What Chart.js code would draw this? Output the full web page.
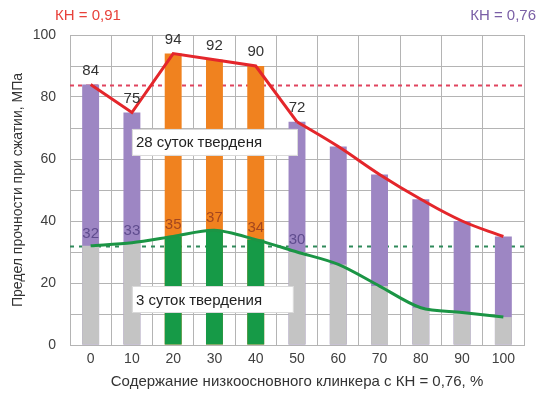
<!DOCTYPE html>
<html><head><meta charset="utf-8">
<script src="https://cdn.jsdelivr.net/npm/chart.js@4/dist/chart.umd.min.js"></script>
<style>html,body{margin:0;padding:0;background:#fff}</style>
</head><body>
<canvas id="c" width="540" height="393"></canvas>
<script>
// ---- data ----
const categories = ['0', '10', '20', '30', '40', '50', '60', '70', '80', '90', '100'];
const strength28 = [84, 75, 94, 92, 90, 72, 64, 55, 47, 40, 35];
const strength3 = [32, 33, 35, 37, 34, 30, 26, 19, 12, 10.5, 9];
const labelledCount = 6;            // first categories carry printed values
const highKhIdx = [2, 3, 4];        // bars drawn in KH = 0.91 colours
const refLevels = [84, 32];         // dashed reference levels
const yTickLabels = [0, 20, 40, 60, 80, 100];
const notes = [
  { text: '28 суток тверденя', from: 1, to: 5, y: 65.5 },
  { text: '3 суток твердения', from: 1, to: 4.9, y: 14.7 }
];
const smoothFrom = 5;

// ---- styles ----
const PURPLE = '#9D86C3', ORANGE = '#F0821F', GREY = '#C4C4C4', GREEN = '#169A47';
const RED = '#E4262B', GREEN_LINE = '#1B9545';
const FONT = '"Liberation Sans", Arial, sans-serif';
const colors28 = categories.map((c, i) => highKhIdx.includes(i) ? ORANGE : PURPLE);
const colors3 = categories.map((c, i) => highKhIdx.includes(i) ? GREEN : GREY);
const label3Colors = categories.map((c, i) => highKhIdx.includes(i) ? '#A4471F' : '#5F4C8E');
const refStyles = [{ color: '#E0445E', dash: [4, 4] }, { color: '#2F8A5A', dash: [4, 5] }];

const redStraight = strength28.map((v, i) => i <= smoothFrom ? v : null);
const redSmooth = strength28.map((v, i) => i >= smoothFrom ? v : null);

const annot = {
  id: 'annot',
  beforeDatasetsDraw(chart) {
    const { ctx, chartArea: a, scales: { y } } = chart;
    refLevels.forEach((v, k) => {
      const py = Math.round(y.getPixelForValue(v)) + 0.5;
      ctx.save();
      ctx.strokeStyle = refStyles[k].color;
      ctx.lineWidth = 2;
      ctx.setLineDash(refStyles[k].dash);
      ctx.beginPath(); ctx.moveTo(a.left, py); ctx.lineTo(a.right, py); ctx.stroke();
      ctx.restore();
    });
  },
  afterDatasetsDraw(chart) {
    const { ctx, chartArea: a, scales: { x, y } } = chart;
    const m28 = chart.getDatasetMeta(0), m3 = chart.getDatasetMeta(1);
    ctx.save();
    ctx.font = '15px ' + FONT;
    ctx.textAlign = 'center';
    ctx.textBaseline = 'middle';
    for (let i = 0; i < labelledCount; i++) {
      const b = m28.data[i];
      ctx.fillStyle = '#333333';
      ctx.fillText(String(strength28[i]), b.x, b.y - 14);
      const g = m3.data[i];
      ctx.fillStyle = label3Colors[i];
      ctx.fillText(String(strength3[i]), g.x, g.y - 12);
    }
    // text boxes
    notes.forEach(n => {
      const l = x.getPixelForValue(n.from), r = x.getPixelForValue(n.to);
      const cy = y.getPixelForValue(n.y);
      ctx.fillStyle = '#ffffff';
      ctx.fillRect(l, cy - 13, r - l, 26);
      ctx.strokeStyle = '#DADADA';
      ctx.lineWidth = 1;
      ctx.strokeRect(Math.round(l) + 0.5, Math.round(cy - 13) + 0.5, Math.round(r - l), 26);
      ctx.fillStyle = '#222222';
      ctx.textAlign = 'left';
      ctx.font = '15px ' + FONT;
      ctx.fillText(n.text, l + 4, cy + 1);
    });
    // header labels
    ctx.font = '15px ' + FONT;
    ctx.textAlign = 'left';
    ctx.fillStyle = '#E8413A';
    ctx.fillText('КН = 0,91', a.left - 15, 16);
    ctx.textAlign = 'right';
    ctx.fillStyle = '#7A5FA6';
    ctx.fillText('КН = 0,76', a.right + 12, 16);
    ctx.restore();
  }
};

new Chart(document.getElementById('c'), {
  data: {
    labels: categories,
    datasets: [
      { type: 'bar', data: strength28, backgroundColor: colors28, grouped: false, order: 5,
        barPercentage: 0.41, categoryPercentage: 1 },
      { type: 'bar', data: strength3, backgroundColor: colors3, grouped: false, order: 4,
        barPercentage: 0.41, categoryPercentage: 1 },
      { type: 'line', data: redStraight, borderColor: RED, borderWidth: 3, pointRadius: 0,
        tension: 0, order: 1, spanGaps: false },
      { type: 'line', data: redSmooth, borderColor: RED, borderWidth: 3, pointRadius: 0,
        tension: 0.4, order: 1 },
      { type: 'line', data: strength3, borderColor: GREEN_LINE, borderWidth: 3, pointRadius: 0,
        tension: 0.3, order: 2 }
    ]
  },
  options: {
    responsive: false,
    animation: false,
    devicePixelRatio: 1,
    layout: { padding: { left: 0, right: 16, top: 35, bottom: 0 } },
    plugins: { legend: { display: false }, tooltip: { enabled: false } },
    scales: {
      x: {
        type: 'category',
        offset: true,
        grid: { offset: true, color: '#B4B4B4', drawTicks: false },
        border: { color: '#B4B4B4' },
        ticks: { color: '#404040', font: { family: FONT, size: 14 }, padding: 6, maxRotation: 0 },
        title: { display: true, text: 'Содержание низкоосновного клинкера с КН = 0,76, %',
          color: '#333333', font: { family: FONT, size: 15 }, padding: { top: 0, bottom: 2 } },
        afterFit(s) { s.height = 48; }
      },
      y: {
        min: 0, max: 100,
        grid: { color: '#B4B4B4', drawTicks: false },
        border: { color: '#B4B4B4' },
        ticks: { stepSize: 10, color: '#404040', font: { family: FONT, size: 14 }, padding: 14,
          callback: v => yTickLabels.includes(v) ? String(v) : '' },
        title: { display: true, text: 'Предел прочности при сжатии, МПа',
          color: '#333333', font: { family: FONT, size: 14 }, padding: { top: 10, bottom: 0 } },
        afterFit(s) { s.width = 70; }
      }
    }
  },
  plugins: [annot]
});
</script>
</body></html>
